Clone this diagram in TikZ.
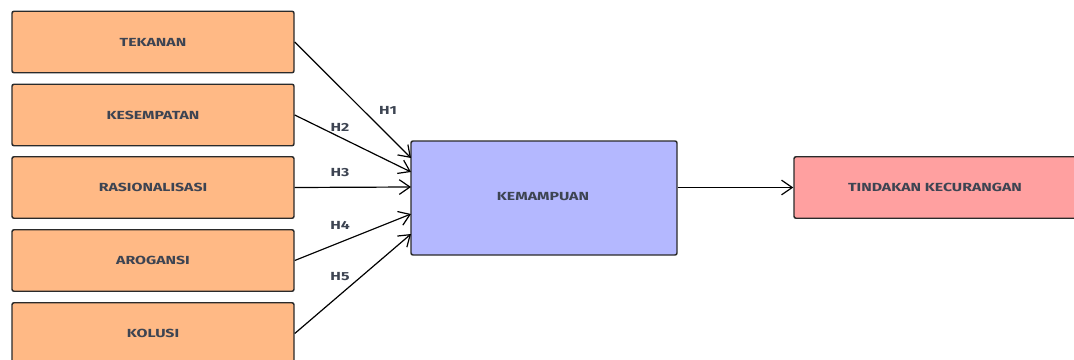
\documentclass[tikz,border=0pt]{standalone}
\usepackage{fontspec}
\setmainfont{Fira Sans}
\newfontfamily\labfont[FakeStretch=1.35]{Fira Sans}
\usetikzlibrary{arrows.meta}
\definecolor{orangefill}{HTML}{FFB985}
\definecolor{bluefill}{HTML}{B4B8FF}
\definecolor{redfill}{HTML}{FFA0A0}
\definecolor{txt}{HTML}{3D4452}
\definecolor{edge}{HTML}{2A2A2A}
\begin{document}
\begin{tikzpicture}[x=0.75pt,y=-0.75pt,
  box/.style={draw=edge,line width=1.1pt,rounded corners=1.5pt,inner sep=0pt,
    font=\labfont\bfseries\fontsize{8.8}{10}\selectfont,text=txt},
  varbox/.style={box,fill=orangefill,minimum width=282*0.75pt,minimum height=61.5*0.75pt},
  link/.style={draw=black,line width=0.9pt,-{Straight Barb[length=8pt,width=11pt,line width=0.9pt]}},
  hlab/.style={font=\labfont\bfseries\fontsize{8.8}{10}\selectfont,text=txt,inner sep=0pt}]
\useasboundingbox (0,0) rectangle (1074,360);
\begin{scope}
\clip (0,0) rectangle (1074,360);
\node[varbox] (tek) at (153,42) {TEKANAN};
\node[varbox] (kes) at (153,115) {KESEMPATAN};
\node[varbox] (ras) at (153,187.5) {RASIONALISASI};
\node[varbox] (aro) at (153,260.5) {AROGANSI};
\node[varbox] (kol) at (153,333.5) {KOLUSI};
\node[box,fill=bluefill,minimum width=266*0.75pt,minimum height=114*0.75pt] (kem) at (544,198) {};
\node[box,fill=redfill,minimum width=290*0.75pt,minimum height=61.5*0.75pt] (tin) at (939,187.5) {};
\node[hlab] (kemt) at (543,197) {KEMAMPUAN};
\node[hlab] (tint) at (935,187) {TINDAKAN KECURANGAN};
\end{scope}
\coordinate (e1) at (411,158);
\coordinate (e2) at (411,172);
\coordinate (e3) at (411,187);
\coordinate (e4) at (411,214);
\coordinate (e5) at (411,234);
\draw[link] (tek.east) -- (e1);
\draw[link] (kes.east) -- (e2);
\draw[link] (ras.east) -- (e3);
\draw[link] (aro.east) -- (e4);
\draw[link] (kol.east) -- (e5);
\draw[link] (kem.east |- tin.west) -- (tin.west);
\node[hlab] (h1) at (388,110) {H1};
\node[hlab] (h2) at (340,127) {H2};
\node[hlab] (h3) at (340,173) {H3};
\node[hlab] (h4) at (340,225) {H4};
\node[hlab] (h5) at (340,277) {H5};
\end{tikzpicture}
\end{document}
